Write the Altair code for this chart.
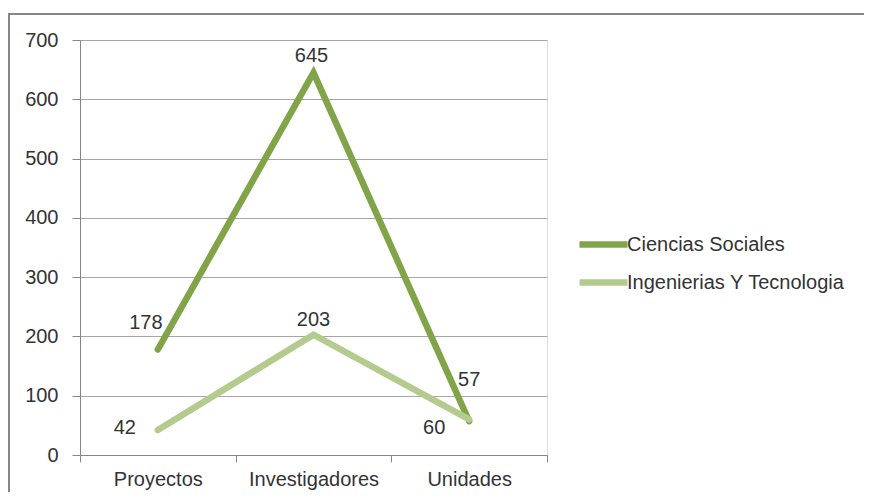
import altair as alt
import pandas as pd

categories = ["Proyectos", "Investigadores", "Unidades"]
series = ["Ciencias Sociales", "Ingenierias Y Tecnologia"]
ciencias_sociales = [178, 645, 57]
ingenierias = [42, 203, 60]
y_ticks = [0, 100, 200, 300, 400, 500, 600, 700]
title_text = "datos del RCT para el 2022."

colors = ["#80A447", "#B3CC8E"]

rows = []
for c, v in zip(categories, ciencias_sociales):
    rows.append({"categoria": c, "serie": series[0], "valor": v})
for c, v in zip(categories, ingenierias):
    rows.append({"categoria": c, "serie": series[1], "valor": v})
df = pd.DataFrame(rows)

FONT = "Liberation Sans"
TXT = "#333333"
GRID = "#A6A6A6"

x_enc = alt.X("categoria:N", sort=categories, title=None,
              scale=alt.Scale(paddingInner=0, paddingOuter=0),
              axis=alt.Axis(labelAngle=0, labelFont=FONT, labelFontSize=20,
                            labelColor=TXT, tickBand="extent", tickSize=7,
                            tickColor="#868686", domainColor="#868686",
                            labelPadding=7, grid=False))
y_enc = alt.Y("valor:Q", title=None,
              scale=alt.Scale(domain=[0, 700], nice=False),
              axis=alt.Axis(values=y_ticks, labelFont=FONT, labelFontSize=20,
                            labelColor=TXT, tickSize=8, tickColor="#868686",
                            domainColor="#868686", gridColor=GRID,
                            labelPadding=14))

base = alt.Chart(df)

lines = base.mark_line(strokeWidth=6.5, strokeCap="round", strokeJoin="miter").encode(
    x=x_enc, y=y_enc,
    color=alt.Color("serie:N", sort=series,
                    scale=alt.Scale(domain=series, range=colors),
                    legend=alt.Legend(title=None, orient="none", legendX=505, legendY=186,
                                      symbolType="M-1.6,0H1.6", symbolSize=900,
                                      symbolStrokeWidth=6.5,
                                      labelFont=FONT, labelFontSize=20, labelColor=TXT,
                                      labelOffset=5, rowPadding=6, labelLimit=400)),
    order=alt.Order("serie:N"),
)

# label offsets (pixel style only)
offsets = {
    (series[0], "Proyectos"): (-12, -26),
    (series[0], "Investigadores"): (-2, -17),
    (series[0], "Unidades"): (0, -41),
    (series[1], "Proyectos"): (-33, -2),
    (series[1], "Investigadores"): (0, -15),
    (series[1], "Unidades"): (-35, 9),
}

label_layers = []
for (s, c), (dx, dy) in offsets.items():
    label_layers.append(
        base.transform_filter(
            (alt.datum.serie == s) & (alt.datum.categoria == c)
        ).mark_text(font=FONT, fontSize=20, color=TXT, dx=dx, dy=dy).encode(
            x=alt.X("categoria:N", sort=categories),
            y=alt.Y("valor:Q"),
            text=alt.Text("valor:Q"),
        )
    )

frame = alt.Chart(pd.DataFrame({"a": [0]})).mark_rect(
    fill=None, stroke="#878787", strokeWidth=2
).encode(
    x=alt.value(-71), x2=alt.value(900), y=alt.value(-26), y2=alt.value(600)
)

chart = alt.layer(lines, *label_layers, frame).properties(
    width=467, height=415,
    title=alt.TitleParams(title_text, offset=30, fontSize=22, fontWeight="bold",
                          font=FONT, color="#000000", anchor="middle", dx=134),
    autosize=alt.AutoSizeParams(type="none"),
    padding={"left": 72, "top": 32, "right": 317, "bottom": 37},
).configure_view(
    fill="#EFF2E9", stroke=None
).configure(background="white")

chart.save("out.html", embed_options={"renderer": "svg", "actions": False})
